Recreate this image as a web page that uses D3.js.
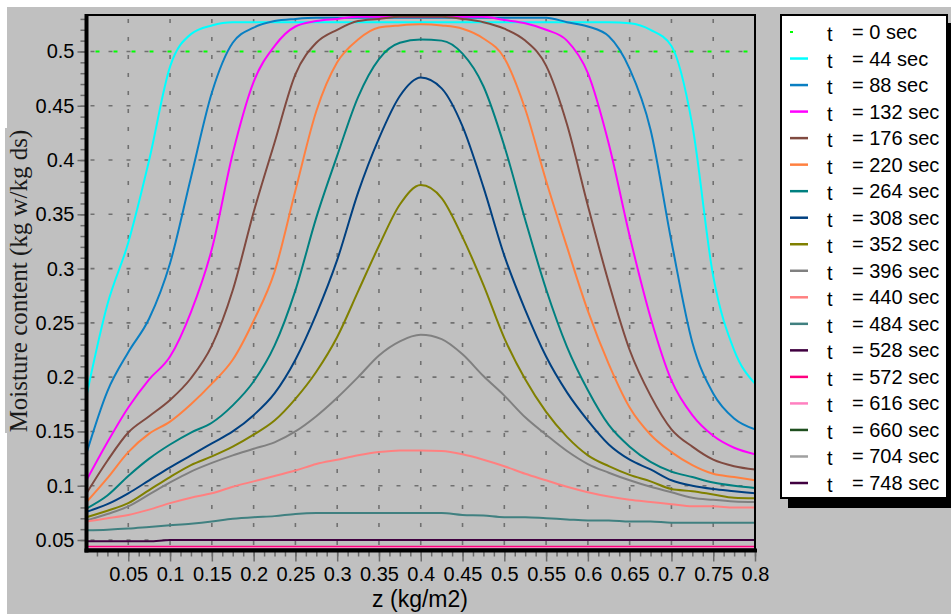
<!DOCTYPE html>
<html>
<head>
<meta charset="utf-8">
<script src="https://cdn.jsdelivr.net/npm/d3@7"></script>
<style>
  html, body { margin: 0; padding: 0; background: #ffffff; }
  svg { display: block; }
</style>
</head>
<body>
<svg id="chart" width="951" height="614"></svg>
<script>
// Bed depth positions (kg/m2)
const zValues = [0, 0.025, 0.05, 0.075, 0.1, 0.125, 0.15, 0.175, 0.2, 0.225, 0.25, 0.275, 0.3,
  0.325, 0.35, 0.375, 0.4, 0.425, 0.45, 0.475, 0.5, 0.525, 0.55, 0.575, 0.6, 0.625, 0.65,
  0.675, 0.7, 0.725, 0.75, 0.775, 0.8];

// Drying times (sec)
const times = [0, 44, 88, 132, 176, 220, 264, 308, 352, 396, 440, 484, 528, 572, 616, 660, 704, 748];

// Moisture content profiles (kg w/kg ds) along z for each time
const m0   = [0.5, 0.5, 0.5, 0.5, 0.5, 0.5, 0.5, 0.5, 0.5, 0.5, 0.5, 0.5, 0.5, 0.5, 0.5, 0.5, 0.5,
  0.5, 0.5, 0.5, 0.5, 0.5, 0.5, 0.5, 0.5, 0.5, 0.5, 0.5, 0.5, 0.5, 0.5, 0.5, 0.5];
const m44  = [0.183, 0.267, 0.324, 0.400, 0.486, 0.516, 0.524, 0.527, 0.527, 0.527, 0.527, 0.527, 0.527,
  0.527, 0.527, 0.527, 0.527, 0.527, 0.527, 0.527, 0.527, 0.527, 0.527, 0.527, 0.527, 0.527, 0.526,
  0.520, 0.505, 0.432, 0.293, 0.225, 0.194];
const m88  = [0.130, 0.187, 0.223, 0.254, 0.305, 0.384, 0.462, 0.508, 0.522, 0.528, 0.530, 0.531, 0.531,
  0.531, 0.531, 0.531, 0.531, 0.531, 0.531, 0.531, 0.531, 0.531, 0.531, 0.527, 0.523, 0.514, 0.484,
  0.428, 0.325, 0.232, 0.185, 0.162, 0.152];
const m132 = [0.105, 0.140, 0.172, 0.198, 0.219, 0.260, 0.318, 0.406, 0.472, 0.505, 0.523, 0.528, 0.530,
  0.532, 0.532, 0.532, 0.532, 0.532, 0.532, 0.532, 0.529, 0.526, 0.520, 0.510, 0.480, 0.415, 0.330,
  0.255, 0.197, 0.165, 0.146, 0.135, 0.129];
const m176 = [0.093, 0.123, 0.149, 0.164, 0.179, 0.199, 0.229, 0.280, 0.352, 0.416, 0.479, 0.508, 0.520,
  0.528, 0.530, 0.532, 0.532, 0.532, 0.530, 0.527, 0.521, 0.510, 0.487, 0.433, 0.358, 0.287, 0.225,
  0.183, 0.152, 0.136, 0.124, 0.118, 0.115];
const m220 = [0.085, 0.107, 0.131, 0.148, 0.159, 0.175, 0.194, 0.216, 0.252, 0.297, 0.372, 0.445, 0.490,
  0.511, 0.522, 0.524, 0.525, 0.524, 0.521, 0.512, 0.494, 0.447, 0.381, 0.320, 0.261, 0.212, 0.172,
  0.147, 0.131, 0.119, 0.111, 0.108, 0.105];
const m264 = [0.079, 0.091, 0.109, 0.125, 0.138, 0.149, 0.158, 0.174, 0.196, 0.229, 0.280, 0.347, 0.404,
  0.458, 0.493, 0.508, 0.511, 0.510, 0.498, 0.468, 0.413, 0.345, 0.281, 0.228, 0.188, 0.156, 0.136,
  0.122, 0.113, 0.108, 0.103, 0.100, 0.098];
const m308 = [0.076, 0.083, 0.093, 0.105, 0.117, 0.128, 0.139, 0.150, 0.165, 0.185, 0.216, 0.258, 0.308,
  0.370, 0.420, 0.459, 0.476, 0.466, 0.431, 0.375, 0.312, 0.262, 0.219, 0.186, 0.160, 0.138, 0.124,
  0.115, 0.105, 0.100, 0.097, 0.095, 0.093];
const m352 = [0.071, 0.077, 0.084, 0.096, 0.108, 0.119, 0.127, 0.136, 0.147, 0.160, 0.180, 0.205, 0.237,
  0.279, 0.321, 0.359, 0.377, 0.365, 0.329, 0.285, 0.236, 0.198, 0.168, 0.145, 0.128, 0.118, 0.110,
  0.104, 0.097, 0.095, 0.092, 0.089, 0.0885];
const m396 = [0.068, 0.074, 0.081, 0.092, 0.103, 0.113, 0.121, 0.128, 0.134, 0.140, 0.150, 0.164, 0.181,
  0.200, 0.220, 0.233, 0.239, 0.235, 0.221, 0.201, 0.183, 0.163, 0.147, 0.132, 0.120, 0.112, 0.105,
  0.099, 0.094, 0.089, 0.087, 0.0855, 0.085];
const m440 = [0.067, 0.070, 0.073, 0.078, 0.084, 0.089, 0.093, 0.099, 0.104, 0.109, 0.114, 0.120, 0.124,
  0.128, 0.131, 0.1325, 0.1325, 0.132, 0.129, 0.124, 0.118, 0.111, 0.105, 0.099, 0.094, 0.090, 0.087,
  0.085, 0.083, 0.081, 0.081, 0.080, 0.080];
const m484 = [0.059, 0.0595, 0.0605, 0.062, 0.0635, 0.065, 0.067, 0.0695, 0.071, 0.072, 0.074, 0.0748, 0.0748,
  0.0748, 0.0748, 0.0748, 0.0748, 0.0748, 0.073, 0.0725, 0.071, 0.071, 0.070, 0.069, 0.068, 0.068, 0.067,
  0.067, 0.066, 0.066, 0.066, 0.066, 0.066];
const m528 = [0.0488, 0.0488, 0.0488, 0.0488, 0.0500, 0.0500, 0.0500, 0.0500, 0.0500, 0.0500, 0.0500, 0.0500, 0.0500,
  0.0500, 0.0500, 0.0500, 0.0500, 0.0500, 0.0500, 0.0500, 0.0500, 0.0500, 0.0500, 0.0500, 0.0500, 0.0500, 0.0500,
  0.0500, 0.0500, 0.0500, 0.0500, 0.0500, 0.0500];
const m572 = [0.0437, 0.0437, 0.0437, 0.0437, 0.0437, 0.0437, 0.0437, 0.0437, 0.0437, 0.0437, 0.0437, 0.0437, 0.0437,
  0.0437, 0.0437, 0.0437, 0.0437, 0.0437, 0.0437, 0.0437, 0.0437, 0.0437, 0.0437, 0.0437, 0.0437, 0.0437, 0.0437,
  0.0437, 0.0437, 0.0437, 0.0437, 0.0437, 0.0437];
const m616 = [0.0427, 0.0427, 0.0427, 0.0427, 0.0427, 0.0427, 0.0427, 0.0427, 0.0427, 0.0427, 0.0427, 0.0427, 0.0427,
  0.0427, 0.0427, 0.0427, 0.0427, 0.0427, 0.0427, 0.0427, 0.0427, 0.0427, 0.0427, 0.0427, 0.0427, 0.0427, 0.0427,
  0.0427, 0.0427, 0.0427, 0.0427, 0.0427, 0.0427];
const m660 = [0.0412, 0.0412, 0.0412, 0.0412, 0.0412, 0.0412, 0.0412, 0.0412, 0.0412, 0.0412, 0.0412, 0.0412, 0.0412,
  0.0412, 0.0412, 0.0412, 0.0412, 0.0412, 0.0412, 0.0412, 0.0412, 0.0412, 0.0412, 0.0412, 0.0412, 0.0412, 0.0412,
  0.0412, 0.0412, 0.0412, 0.0412, 0.0412, 0.0412];
const m704 = m660.slice();
const m748 = m660.slice();

const profiles = [m0, m44, m88, m132, m176, m220, m264, m308, m352, m396, m440, m484, m528, m572, m616, m660, m704, m748];

// Line colours, one per time
const colors = ["#00ff00", "#00ffff", "#0a7fc2", "#ff00ff", "#804a40", "#ff8040", "#008080", "#004080",
  "#808000", "#808080", "#ff8080", "#408080", "#400040", "#ff0080", "#ff80c0", "#1f4f1f", "#a0a0a0", "#400040"];

// Axis tick values
const xTickValues = [0.05, 0.1, 0.15, 0.2, 0.25, 0.3, 0.35, 0.4, 0.45, 0.5, 0.55, 0.6, 0.65, 0.7, 0.75, 0.8];
const yTickValues = [0.05, 0.1, 0.15, 0.2, 0.25, 0.3, 0.35, 0.4, 0.45, 0.5];

const xTitle = "z (kg/m2)";
const yTitle = "Moisture content (kg w/kg ds)";

// ---------- layout ----------
const plot = { left: 86.5, right: 755, top: 15, bottom: 550 };
const x = d3.scaleLinear().domain([0, 0.8]).range([plot.left, plot.right]);
const y = d3.scaleLinear().domain([0.0408, 0.5336]).range([plot.bottom, plot.top]);

const svg = d3.select("#chart");
const FONT = "'Liberation Sans', Arial, sans-serif";

// page background: white margin on top and left, grey elsewhere
svg.append("rect").attr("width", 951).attr("height", 614).attr("fill", "#ffffff");
svg.append("rect").attr("x", 7).attr("y", 7).attr("width", 944).attr("height", 607).attr("fill", "#c0c0c0");
svg.append("rect").attr("x", 5).attr("y", 128).attr("width", 35).attr("height", 305).attr("fill", "#c0c0c0");

// clip for the curves
svg.append("clipPath").attr("id", "plotClip")
  .append("rect")
  .attr("x", plot.left).attr("y", plot.top)
  .attr("width", plot.right - plot.left).attr("height", plot.bottom - plot.top);

// grid
const grid = svg.append("g").attr("stroke", "#707070").attr("stroke-width", 1.6).attr("stroke-dasharray", "4,14");
grid.selectAll("line.v").data(xTickValues.filter(d => d < 0.8)).join("line")
  .attr("x1", d => x(d)).attr("x2", d => x(d))
  .attr("y1", plot.top + 4).attr("y2", plot.bottom);
grid.selectAll("line.h").data(yTickValues).join("line")
  .attr("x1", plot.left + 4).attr("x2", plot.right)
  .attr("y1", d => y(d)).attr("y2", d => y(d));

// curves
const line = d3.line()
  .x((d, i) => x(zValues[i]))
  .y(d => y(d))
  .curve(d3.curveMonotoneX);

const curves = svg.append("g").attr("clip-path", "url(#plotClip)").attr("fill", "none");
profiles.forEach((p, k) => {
  const path = curves.append("path")
    .attr("d", line(p))
    .attr("stroke", colors[k])
    .attr("stroke-width", 2)
    .attr("stroke-linejoin", "round");
  if (k === 0) path.attr("stroke-dasharray", "4,14").attr("stroke-dashoffset", -9);
});

// minor ticks
const minorY = d3.range(0.05, 0.5351, 0.01);
const minorX = d3.range(0.0125, 0.8001, 0.0125);

const styleAxis = g => {
  g.select(".domain").remove();
  g.selectAll(".tick line").attr("stroke", "#6a6a6a").attr("stroke-width", 1.5);
  g.selectAll(".tick text").attr("font-family", FONT).attr("font-size", 20).attr("fill", "#000");
};

svg.append("g").attr("transform", `translate(${plot.left},0)`)
  .call(d3.axisLeft(y).tickValues(minorY).tickSize(6).tickFormat(""))
  .call(styleAxis);
svg.append("g").attr("transform", `translate(${plot.left},0)`)
  .call(d3.axisLeft(y).tickValues(yTickValues).tickSize(9).tickPadding(3).tickFormat(d => String(d)))
  .call(styleAxis);

svg.append("g").attr("transform", `translate(0,${plot.bottom + 0.5})`)
  .call(d3.axisBottom(x).tickValues(minorX).tickSize(6).tickFormat(""))
  .call(styleAxis);
svg.append("g").attr("transform", `translate(0,${plot.bottom + 0.5})`)
  .call(d3.axisBottom(x).tickValues(xTickValues).tickSize(11).tickPadding(5).tickFormat(d => String(d)))
  .call(styleAxis);

// frame: heavy left and bottom axes, thin top and right
svg.append("line").attr("x1", plot.left).attr("x2", plot.right + 1)
  .attr("y1", plot.top).attr("y2", plot.top).attr("stroke", "#000").attr("stroke-width", 2);
svg.append("line").attr("x1", plot.right).attr("x2", plot.right)
  .attr("y1", plot.top).attr("y2", plot.bottom).attr("stroke", "#000").attr("stroke-width", 2);
svg.append("line").attr("x1", plot.left).attr("x2", plot.left)
  .attr("y1", plot.top - 1).attr("y2", plot.bottom + 2.5).attr("stroke", "#000").attr("stroke-width", 4);
svg.append("line").attr("x1", plot.left - 2).attr("x2", plot.right + 2)
  .attr("y1", plot.bottom + 0.5).attr("y2", plot.bottom + 0.5).attr("stroke", "#000").attr("stroke-width", 4);

// axis titles
svg.append("text")
  .attr("x", 420).attr("y", 607)
  .attr("text-anchor", "middle")
  .attr("font-family", FONT).attr("font-size", 23).attr("fill", "#000")
  .text(xTitle);

svg.append("text")
  .attr("transform", "translate(27,281) rotate(-90)")
  .attr("text-anchor", "middle")
  .attr("font-family", "'Liberation Serif', 'Times New Roman', serif")
  .attr("font-size", 25).attr("fill", "#1a1a1a")
  .text(yTitle);

// legend
const lg = { x: 781, y: 15, w: 166, h: 483, row0: 32, step: 26.53 };
svg.append("rect").attr("x", lg.x + 7).attr("y", lg.y + 8).attr("width", lg.w).attr("height", lg.h + 2).attr("fill", "#000");
svg.append("rect").attr("x", lg.x).attr("y", lg.y).attr("width", lg.w).attr("height", lg.h)
  .attr("fill", "#fff").attr("stroke", "#000").attr("stroke-width", 2);

const rows = svg.append("g").selectAll("g").data(times).join("g")
  .attr("transform", (d, i) => `translate(0,${lg.row0 + i * lg.step})`);

rows.each(function (d, i) {
  const r = d3.select(this);
  if (i === 0) {
    r.append("rect").attr("x", 790).attr("y", -1).attr("width", 3).attr("height", 2).attr("fill", colors[i]);
  } else {
    r.append("line").attr("x1", 790).attr("x2", 808).attr("y1", 0).attr("y2", 0)
      .attr("stroke", colors[i]).attr("stroke-width", 2.5);
  }
  r.append("text").attr("x", 827).attr("y", 9)
    .attr("font-family", FONT).attr("font-size", 20).attr("fill", "#000").text("t");
  r.append("text").attr("x", 852).attr("y", 7)
    .attr("font-family", FONT).attr("font-size", 20).attr("fill", "#000").text(`= ${d} sec`);
});
</script>
</body>
</html>
